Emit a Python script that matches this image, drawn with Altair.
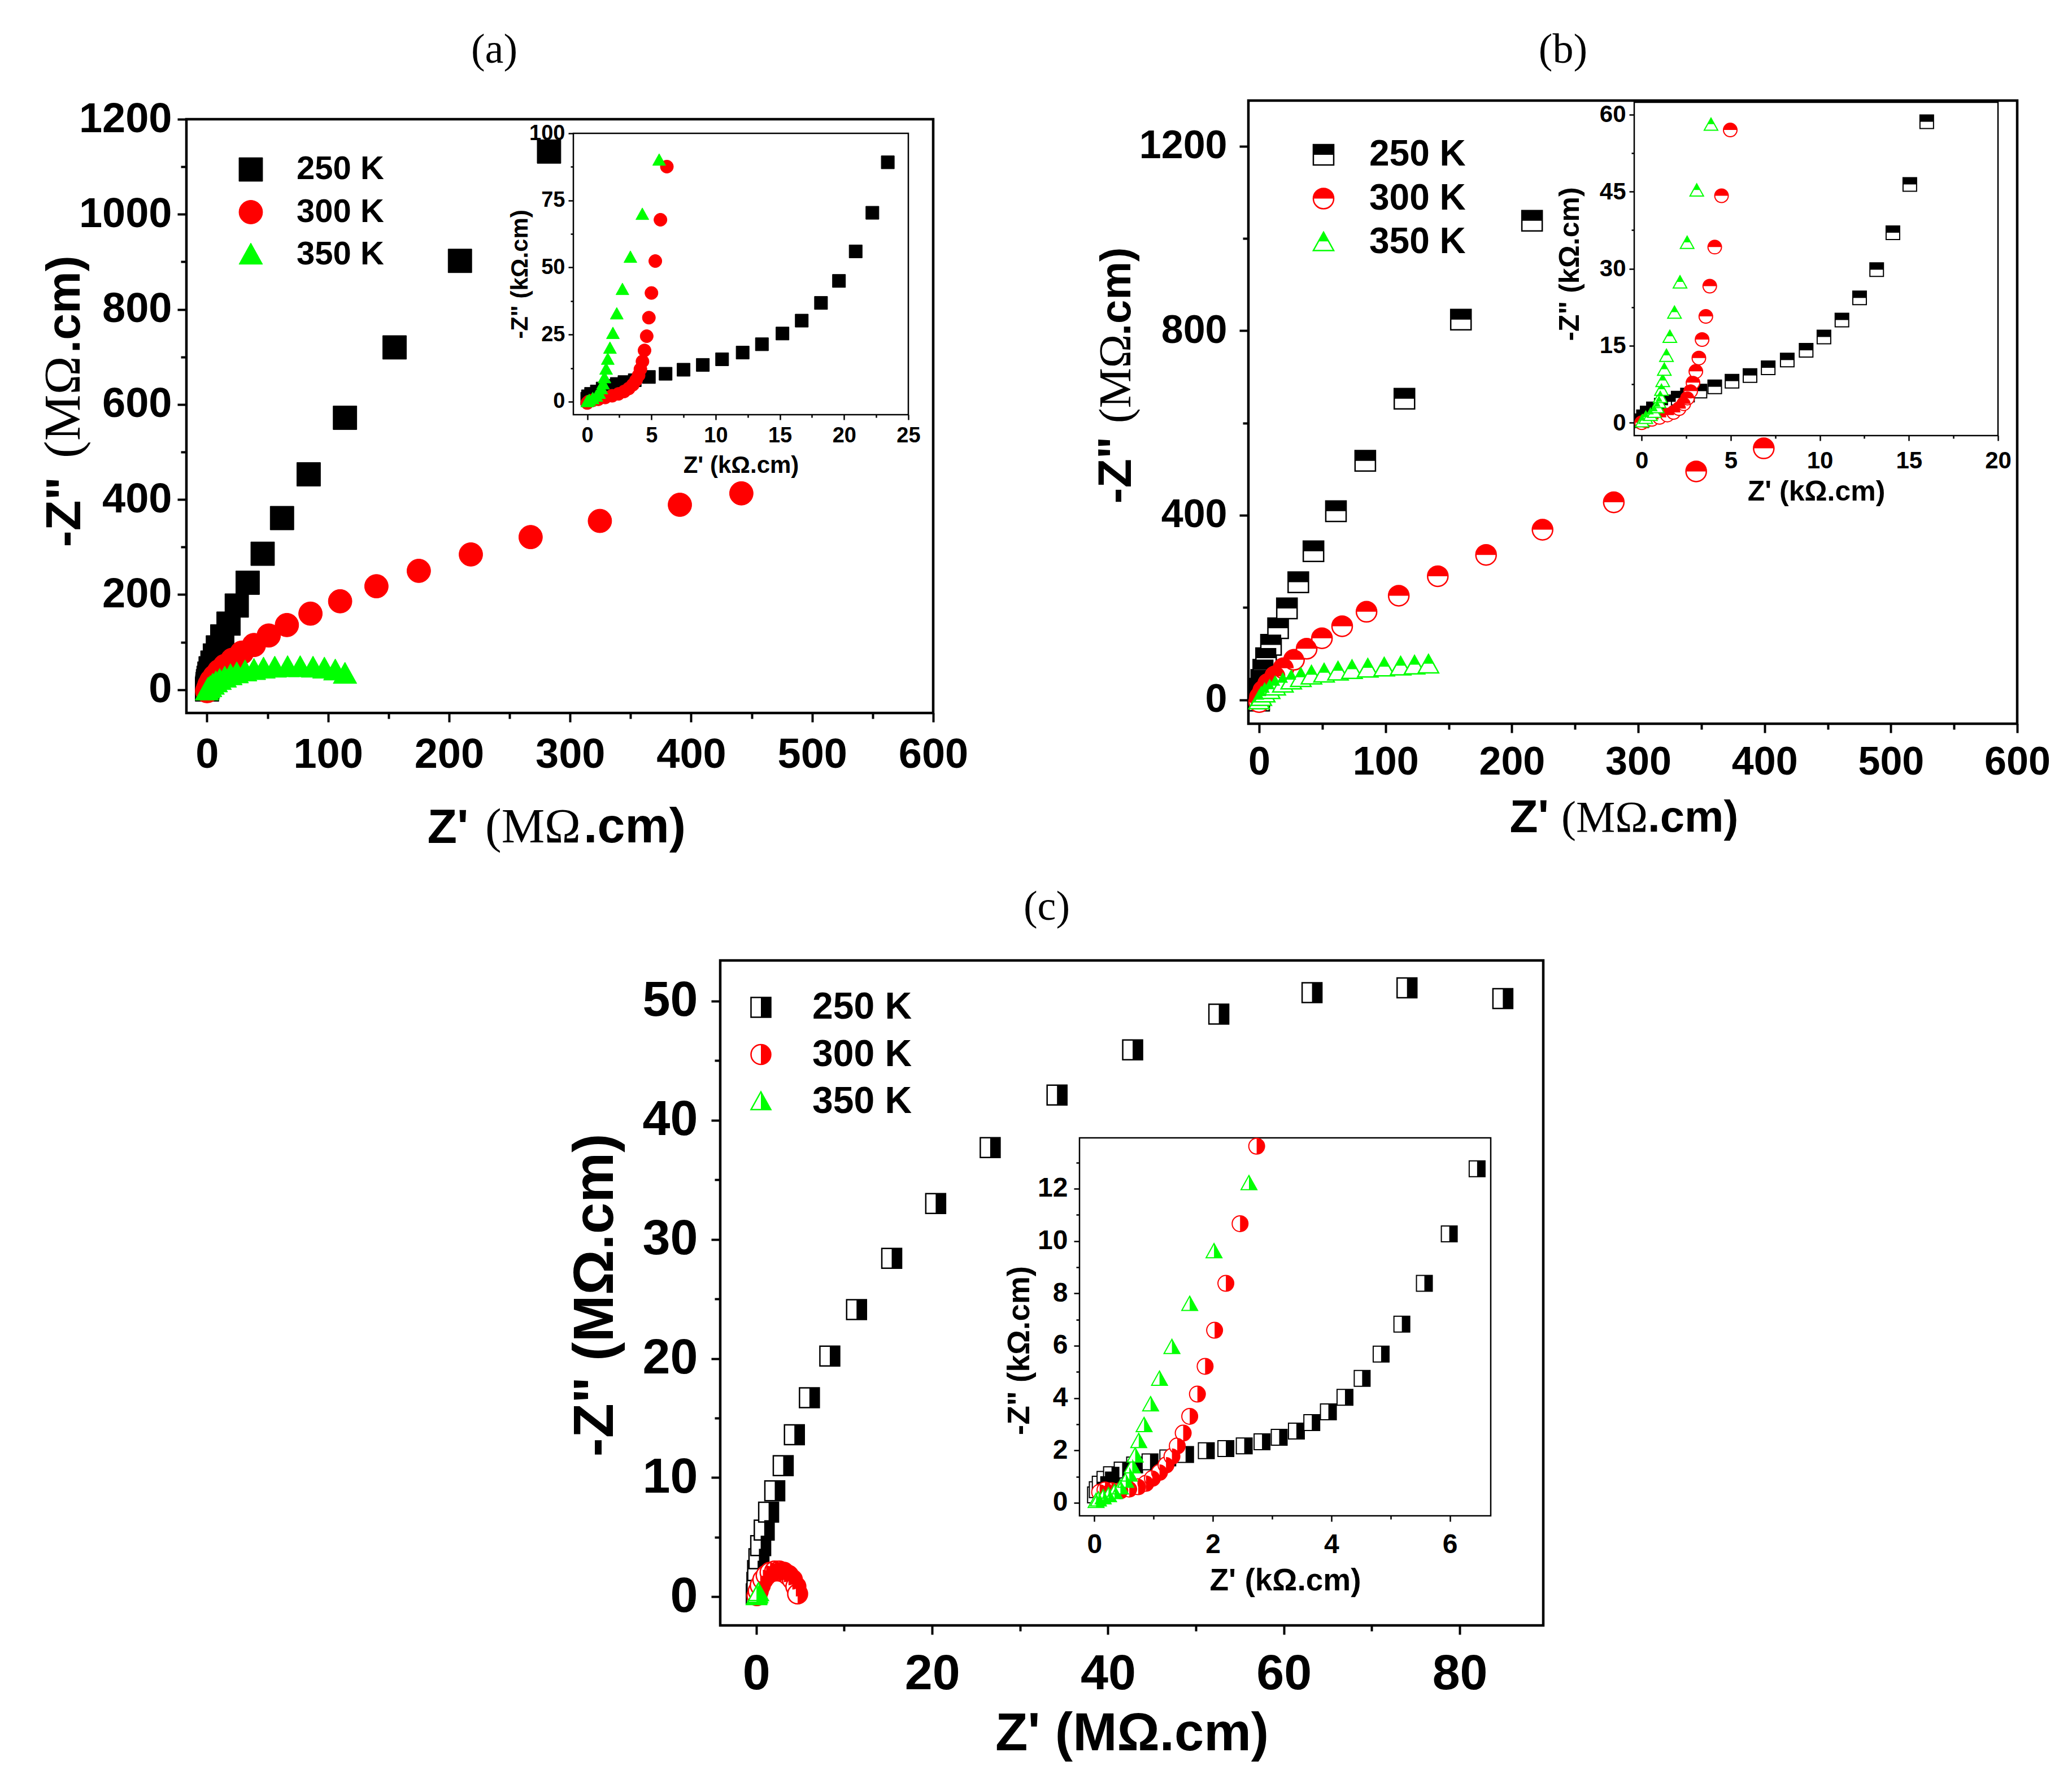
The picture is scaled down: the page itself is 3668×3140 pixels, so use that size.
import pandas as pd
import altair as alt

# canvas (page is 3668x3140 with an 8px margin)
W, H = 3650, 3120
FONT = 'Liberation Sans'
SERIF = 'Liberation Serif'

series_names = ['250 K', '300 K', '350 K']
colors = ['#000000', '#ff0000', '#00ff00']
panel_labels = ['(a)', '(b)', '(c)']
unit_serif, unit_sans = '(MΩ', '.cm)'

# ---- panel (a), main, MOhm.cm
a_250_x = [0.05, 0.15, 0.3, 0.5, 0.8, 1.3, 2, 3, 4.5, 6.5, 9, 12.6, 17.8, 24.6, 33.6, 46, 62, 84, 114, 155, 209, 282.6]
a_250_y = [0.5, 3, 7, 12, 18, 25, 34, 45, 57, 72, 89, 112, 139, 177, 225, 286, 361, 453, 572, 720, 902, 1132]
a_300_x = [0.1, 1, 2, 3.7, 6.3, 10, 14.7, 21, 28.8, 38.8, 51, 66, 85.5, 110, 140, 175, 218, 267.4, 324.6, 390.7, 441.5]
a_300_y = [-3, 3, 10.5, 19, 28, 39, 50, 63, 78, 94, 114, 136, 160, 186, 217.6, 250, 284.5, 321, 355, 389, 413]
a_350_x = [0, 1, 2.6, 4.7, 7.3, 10.5, 14.7, 19.4, 24.6, 31.5, 38.8, 46.7, 56, 66.6, 77, 87.6, 97, 106, 114]
a_350_y = [-2, 2, 5, 10, 15, 20, 25, 30, 34, 38, 41, 44, 46, 47, 47, 46, 44, 40, 33]

# ---- panel (a), inset, kOhm.cm
ai_250_x = [0, 0.06, 0.3, 0.75, 1.2, 1.7, 2.3, 2.9, 3.7, 4.8, 6.1, 7.5, 9, 10.5, 12.1, 13.6, 15.2, 16.7, 18.2, 19.6, 20.9, 22.2, 23.4]
ai_250_y = [1.1, 2, 2.9, 3.8, 4.9, 5.9, 6.6, 7.3, 8, 9.2, 10.4, 11.9, 13.7, 15.8, 18.3, 21.4, 25.4, 30.2, 36.8, 45, 56, 70.4, 89.2]
ai_300_x = [0, 0.1, 0.43, 0.86, 1.4, 1.94, 2.43, 2.87, 3.23, 3.55, 3.8, 4.0, 4.14, 4.3, 4.46, 4.63, 4.8, 5.0, 5.3, 5.7, 6.2]
ai_300_y = [-0.5, 0, 0.5, 0.9, 1.56, 2.2, 2.9, 3.8, 4.9, 6.3, 8, 9.8, 12.1, 15, 19.1, 24.4, 31.3, 40.5, 52.4, 67.8, 87.6]
ai_350_x = [0, 0.15, 0.43, 0.71, 0.93, 1.1, 1.23, 1.34, 1.47, 1.6, 1.77, 2.0, 2.3, 2.74, 3.36, 4.29, 5.6]
ai_350_y = [0, 0.46, 1.1, 2, 3.1, 4.8, 6.6, 8.9, 12.1, 15.8, 19.9, 25.4, 32.7, 41.8, 53.8, 69.8, 90]

# ---- panel (b), main, MOhm.cm
b_250_x = [0, 0, 0.6, 1.7, 3.3, 5.5, 9.4, 15, 22, 31, 43, 60.8, 84, 115, 159.7, 216]
b_250_y = [-2, 8.7, 24, 43, 65, 90, 119, 155, 198, 254.7, 322, 408.7, 518, 652.6, 824, 1038.5]
b_300_x = [0, 0.6, 3.3, 7.2, 12.7, 19.3, 27.6, 37.6, 49.7, 65.7, 85, 110.5, 141.4, 179.6, 224.3, 280.7, 345.9, 399.4]
b_300_y = [-5, 5.4, 19.5, 34.7, 51, 68.3, 86.7, 110.6, 133.3, 159.3, 190.8, 225.5, 267.8, 314, 368.6, 428, 495, 545]
b_350_x = [0, 1.7, 4.4, 8.3, 12.7, 18.8, 25.4, 33, 41.4, 51.4, 62.4, 73.5, 86, 99, 112, 123, 134]
b_350_y = [-2, 5.4, 13, 20.6, 28.2, 34.7, 41.2, 46.6, 52, 56.4, 60.7, 64, 67, 69.4, 71.5, 73.7, 76]

# ---- panel (b), inset, kOhm.cm
bi_250_x = [0, 0.1, 0.31, 0.66, 1.1, 1.53, 2.05, 2.57, 3.27, 4.1, 5.07, 6.08, 7.1, 8.17, 9.23, 10.23, 11.24, 12.23, 13.19, 14.1, 15.05, 16.0]
bi_250_y = [0.4, 1.15, 1.9, 2.7, 3.4, 4.07, 4.8, 5.4, 6.15, 7, 8.1, 9.2, 10.7, 12.2, 14.1, 16.7, 20, 24.3, 29.8, 37, 46.4, 58.6]
bi_300_x = [0, 0.23, 0.57, 1.0, 1.44, 1.79, 2.1, 2.36, 2.57, 2.75, 2.88, 3.04, 3.21, 3.39, 3.6, 3.82, 4.1, 4.48, 4.97]
bi_300_y = [0, 0.38, 0.66, 1.04, 1.5, 2.0, 2.75, 3.7, 4.8, 6.15, 7.8, 10, 12.6, 16.2, 20.7, 26.6, 34.2, 44.2, 57]
bi_350_x = [0.03, 0.23, 0.49, 0.71, 0.87, 0.97, 1.04, 1.11, 1.18, 1.27, 1.39, 1.58, 1.84, 2.15, 2.55, 3.09, 3.89]
bi_350_y = [0.27, 0.93, 1.5, 2.1, 3, 4, 5, 6.4, 8.1, 10.3, 13, 16.7, 21.4, 27.3, 35, 45.2, 58]

# ---- panel (c), main, MOhm.cm
c_250_x = [0, 0.07, 0.15, 0.3, 0.5, 0.9, 1.4, 2.1, 3.06, 4.33, 6.04, 8.36, 11.4, 15.4, 20.4, 26.6, 34.2, 42.8, 52.6, 63.2, 74, 84.9]
c_250_y = [0.24, 1.2, 2.2, 3.2, 4.3, 5.6, 7.1, 8.9, 11, 13.6, 16.7, 20.2, 24.1, 28.4, 33, 37.7, 42.1, 45.9, 48.9, 50.7, 51.1, 50.2]
c_300_x = [0.07, 0.22, 0.45, 0.75, 1.12, 1.57, 2.1, 2.61, 3.13, 3.66, 4.1, 4.5, 4.7]
c_300_y = [0.1, 0.48, 0.96, 1.44, 1.8, 2.06, 2.16, 2.16, 2.06, 1.8, 1.44, 0.86, 0.24]
c_350_x = [0.02, 0.08, 0.15, 0.25]
c_350_y = [0.02, 0.1, 0.2, 0.35]

# ---- panel (c), inset, kOhm.cm
ci_250_x = [0.02, 0.05, 0.1, 0.18, 0.29, 0.47, 0.68, 0.94, 1.24, 1.54, 1.89, 2.22, 2.53, 2.83, 3.12, 3.41, 3.67, 3.95, 4.23, 4.52, 4.84, 5.19, 5.57, 5.99, 6.46]
ci_250_y = [0.3, 0.5, 0.71, 0.89, 1.07, 1.25, 1.44, 1.56, 1.71, 1.84, 1.99, 2.07, 2.17, 2.33, 2.5, 2.74, 3.06, 3.47, 4.03, 4.75, 5.68, 6.82, 8.38, 10.27, 12.76]
ci_300_x = [0.09, 0.18, 0.29, 0.44, 0.59, 0.74, 0.87, 0.98, 1.1, 1.21, 1.31, 1.4, 1.5, 1.61, 1.74, 1.87, 2.03, 2.22, 2.46, 2.74]
ci_300_y = [0.4, 0.49, 0.46, 0.46, 0.52, 0.61, 0.74, 0.93, 1.16, 1.44, 1.77, 2.17, 2.66, 3.3, 4.15, 5.21, 6.59, 8.38, 10.66, 13.62]
ci_350_x = [0.03, 0.07, 0.15, 0.24, 0.34, 0.44, 0.53, 0.59, 0.64, 0.69, 0.75, 0.84, 0.95, 1.1, 1.31, 1.61, 2.02, 2.61]
ci_350_y = [0.06, 0.12, 0.2, 0.28, 0.4, 0.58, 0.83, 1.07, 1.38, 1.8, 2.35, 2.96, 3.75, 4.73, 5.94, 7.59, 9.6, 12.2]

# marker outlines, unit box [-1, 1]
SQUARE = 'M-1,-1L1,-1L1,1L-1,1Z'
CIRCLE = 'M-1,0A1,1,0,1,1,1,0A1,1,0,1,1,-1,0Z'
TRIANGLE = 'M0,-1L1,0.8L-1,0.8Z'
full_shapes = [SQUARE, CIRCLE, TRIANGLE]
top_halves = ['M-1,-1L1,-1L1,0L-1,0Z', 'M-1,0A1,1,0,0,1,1,0Z', 'M0,-1L0.5,-0.1L-0.5,-0.1Z']
right_halves = ['M0,-1L1,-1L1,1L0,1Z', 'M0,-1A1,1,0,0,1,0,1Z', 'M0,-1L1,0.8L0,0.8Z']


def tick_opts(major, tick, tw, fs):
    cond = f'datum.value % {major} === 0'
    return dict(format='d', labelExpr=f"{cond} ? datum.label : ''",
                tickSize={'condition': {'test': cond, 'value': tick}, 'value': round(tick * 0.6)},
                tickWidth=tw, tickColor='black', domain=False, grid=False,
                labelFont=FONT, labelFontSize=fs, labelFontWeight='bold', labelColor='black',
                labelFlush=False, labelOverlap=False,
                titleFont=FONT, titleFontWeight='bold', titleColor='black')


def x_axis(ax_y, values, major, fs, tick, tw, title, tfs, title_y, lab_off, title_x=None):
    kw = tick_opts(major, tick, tw, fs)
    if title_x is None:
        kw.update(titleBaseline='middle', titleY=title_y - ax_y)
    else:
        kw.update(titleBaseline='alphabetic', titleAlign='left', titleX=title_x, titleY=title_y - ax_y)
    return alt.Axis(orient='bottom', offset=ax_y - H, values=values, labelBaseline='middle',
                    labelPadding=lab_off - tick, title=title, titleFontSize=tfs, **kw)


def y_axis(ax_x, values, major, fs, tick, tw, title, tfs, title_x, lab_gap, title_y, start=False):
    kw = tick_opts(major, tick, tw, fs)
    if start:
        kw.update(titleBaseline='alphabetic', titleAlign='left')
    else:
        kw.update(titleBaseline='middle')
    return alt.Axis(orient='left', offset=-ax_x, values=values, labelPadding=lab_gap - tick,
                    title=title, titleFontSize=tfs, titleAngle=-90,
                    titleX=title_x - ax_x, titleY=title_y, **kw)


def panel(p, series, style, size, sw):
    xs = alt.Scale(domain=p['xdom'], range=p['xr'], nice=False, zero=False)
    ys = alt.Scale(domain=p['ydom'], range=p['yr'], nice=False, zero=False)
    box = pd.DataFrame({'x0': [p['xdom'][0]], 'x1': [p['xdom'][1]],
                        'y0': [p['ydom'][0]], 'y1': [p['ydom'][1]]})
    layers = [alt.Chart(box).mark_rect(fillOpacity=0, stroke='black', strokeWidth=p['frame']).encode(
        x=alt.X('x0:Q', scale=xs, axis=p['xaxis']), x2='x1',
        y=alt.Y('y0:Q', scale=ys, axis=p['yaxis']), y2='y1')]
    for k, ((xv, yv), col) in enumerate(zip(series, colors)):
        df = pd.DataFrame({'x': xv, 'y': yv})
        enc = dict(x=alt.X('x:Q', scale=xs, axis=None), y=alt.Y('y:Q', scale=ys, axis=None))
        if style == 'filled':
            layers.append(alt.Chart(df).mark_point(shape=full_shapes[k], size=size, filled=True, fill=col,
                                                   stroke=col, strokeWidth=1, opacity=1).encode(**enc))
        else:
            half = top_halves[k] if style == 'top' else right_halves[k]
            layers.append(alt.Chart(df).mark_point(shape=full_shapes[k], size=size, filled=True, fill='white',
                                                   stroke=col, strokeWidth=sw, opacity=1).encode(**enc))
            layers.append(alt.Chart(df).mark_point(shape=half, size=size, filled=True, fill=col,
                                                   strokeWidth=0, opacity=1).encode(**enc))
    return layers


def legend(sym_x, y_range, text_x, style, size, sw, fs):
    df = pd.DataFrame({'series': series_names})
    ysc = alt.Scale(type='point', domain=series_names, range=y_range, padding=0)
    y = alt.Y('series:N', scale=ysc, axis=None)
    layers = []
    for k, (name, col) in enumerate(zip(series_names, colors)):
        base = alt.Chart(df).transform_filter(alt.datum.series == name)
        if style == 'filled':
            layers.append(base.mark_point(shape=full_shapes[k], size=size, filled=True, fill=col,
                                          stroke=col, strokeWidth=1, opacity=1).encode(x=alt.value(sym_x), y=y))
        else:
            half = top_halves[k] if style == 'top' else right_halves[k]
            layers.append(base.mark_point(shape=full_shapes[k], size=size, filled=True, fill='white',
                                          stroke=col, strokeWidth=sw, opacity=1).encode(x=alt.value(sym_x), y=y))
            layers.append(base.mark_point(shape=half, size=size, filled=True, fill=col,
                                          strokeWidth=0, opacity=1).encode(x=alt.value(sym_x), y=y))
    layers.append(alt.Chart(df).mark_text(align='left', baseline='middle', font=FONT, fontSize=fs,
                                          fontWeight='bold', color='black').encode(
        x=alt.value(text_x), y=y, text='series:N'))
    return layers


def piece(text, x, y, font, size, weight, angle=0):
    df = pd.DataFrame({'t': [text]})
    return alt.Chart(df).mark_text(align='left', baseline='alphabetic', font=font, fontSize=size,
                                   fontWeight=weight, angle=angle, color='black').encode(
        x=alt.value(x), y=alt.value(y), text='t:N')


def label(k, x, y):
    df = pd.DataFrame({'label': [panel_labels[k]]})
    return alt.Chart(df).mark_text(font=SERIF, fontSize=74, color='black', baseline='middle').encode(
        x=alt.value(x), y=alt.value(y), text='label:N')


MX, MY = "Z' (MΩ.cm)", '-Z" (MΩ.cm)'
KX, KY = "Z' (kΩ.cm)", '-Z" (kΩ.cm)'

pa = dict(xdom=[-17, 600], ydom=[-49, 1200], xr=[322, 1644], yr=[1254, 203], frame=4.5,
          xaxis=x_axis(1254, list(range(0, 601, 50)), 100, 74, 16, 4, "Z'", 86, 1483, 74, title_x=748),
          yaxis=y_axis(322, list(range(0, 1201, 100)), 200, 74, 16, 4, '-Z"', 88, 133, 26, 960, start=True))
pai = dict(xdom=[-1.08, 25], ydom=[-4.85, 100], xr=[1007, 1600], yr=[726, 228], frame=2.5,
           xaxis=x_axis(726, [i * 2.5 for i in range(11)], 5, 38, 9, 2.5, KX, 42, 815, 37),
           yaxis=y_axis(1007, [i * 12.5 for i in range(9)], 25, 38, 9, 2.5, KY, 42, 912, 15, 477))
pb = dict(xdom=[-8.5, 600], ydom=[-52, 1299], xr=[2202, 3563], yr=[1273, 170], frame=4.5,
          xaxis=x_axis(1273, list(range(0, 601, 50)), 100, 70, 16, 4, "Z'", 82, 1464, 68, title_x=2664),
          yaxis=y_axis(2202, list(range(0, 1201, 200)), 400, 70, 16, 4, '-Z"', 84, 1993, 38, 883, start=True))
pbi = dict(xdom=[-0.42, 20], ydom=[-2.5, 62.4], xr=[2885, 3529], yr=[763, 173], frame=2.5,
           xaxis=x_axis(763, [i * 2.5 for i in range(9)], 5, 42, 9, 2.5, KX, 50, 862, 44),
           yaxis=y_axis(2885, [i * 7.5 for i in range(9)], 15, 42, 9, 2.5, KY, 50, 2771, 15, 459))
pc = dict(xdom=[-4.1, 89.5], ydom=[-2.4, 53.4], xr=[1267, 2724], yr=[2869, 1692], frame=4.5,
          xaxis=x_axis(2869, list(range(0, 81, 10)), 20, 88, 16, 4, MX, 94, 3061, 86),
          yaxis=y_axis(1267, list(range(0, 51, 5)), 10, 88, 16, 4, MY, 100, 1046, 40, 2284))
pci = dict(xdom=[-0.25, 6.69], ydom=[-0.5, 13.94], xr=[1903, 2631], yr=[2675, 2006], frame=2.5,
           xaxis=x_axis(2675, list(range(0, 7)), 2, 48, 10, 2.5, KX, 55, 2789, 51),
           yaxis=y_axis(1903, list(range(0, 14)), 2, 48, 10, 2.5, KY, 55, 1796, 21, 2382))

layers = []
layers += panel(pa, [(a_250_x, a_250_y), (a_300_x, a_300_y), (a_350_x, a_350_y)], 'filled', 1750, 1)
layers += panel(pai, [(ai_250_x, ai_250_y), (ai_300_x, ai_300_y), (ai_350_x, ai_350_y)], 'filled', 530, 1)
layers += panel(pb, [(b_250_x, b_250_y), (b_300_x, b_300_y), (b_350_x, b_350_y)], 'top', 1300, 2.5)
layers += panel(pbi, [(bi_250_x, bi_250_y), (bi_300_x, bi_300_y), (bi_350_x, bi_350_y)], 'top', 576, 2)
layers += panel(pc, [(c_250_x, c_250_y), (c_300_x, c_300_y), (c_350_x, c_350_y)], 'right', 1225, 2.5)
layers += panel(pci, [(ci_250_x, ci_250_y), (ci_300_x, ci_300_y), (ci_350_x, ci_350_y)], 'right', 784, 2)
layers += legend(436, [292, 443], 517, 'filled', 1750, 1, 58)
layers += legend(2335, [266, 421], 2416, 'top', 1300, 2.5, 64)
layers += legend(1339, [1775, 1942], 1430, 'right', 1225, 2.5, 66)

# unit parts of the (a) and (b) axis titles: serif "(MΩ" + bold sans ".cm)"
layers += [piece(unit_serif, 851, 1483, SERIF, 86, 'normal'),
           piece(unit_sans, 1025, 1483, FONT, 88, 'bold'),
           piece(unit_serif, 133, 803, SERIF, 92, 'normal', 270),
           piece(unit_sans, 133, 617, FONT, 84, 'bold', 270),
           piece(unit_serif, 2756, 1464, SERIF, 78, 'normal'),
           piece(unit_sans, 2909, 1464, FONT, 78, 'bold'),
           piece(unit_serif, 1993, 741, SERIF, 80, 'normal', 270),
           piece(unit_sans, 1993, 586, FONT, 76, 'bold', 270)]

layers += [label(0, 867, 81), label(1, 2759, 81), label(2, 1845, 1598)]

chart = alt.layer(*layers).resolve_scale(x='independent', y='independent').properties(
    width=W, height=H, autosize='none', padding=0, background='white'
).configure_view(strokeWidth=0)

chart.save("out.html", embed_options={"renderer": "svg", "actions": False})
